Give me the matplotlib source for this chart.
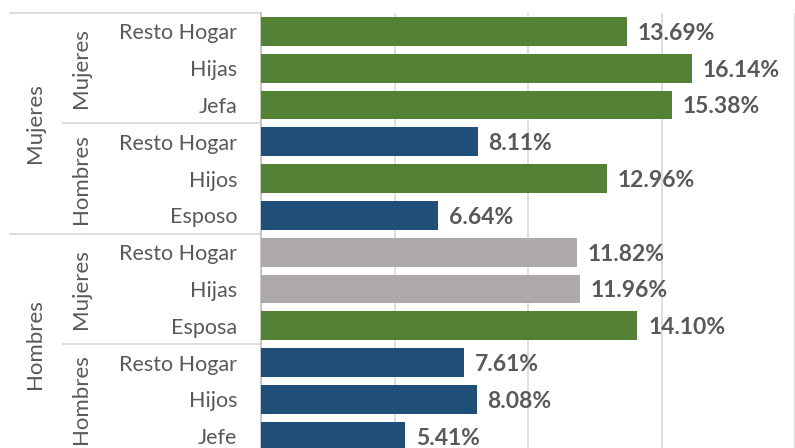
import matplotlib
matplotlib.use("Agg")
import matplotlib.pyplot as plt
import matplotlib.transforms as mtransforms
from matplotlib.lines import Line2D

# data (top to bottom)
ROLES = ["Resto Hogar", "Hijas", "Jefa", "Resto Hogar", "Hijos", "Esposo",
         "Resto Hogar", "Hijas", "Esposa", "Resto Hogar", "Hijos", "Jefe"]
VALUES = [13.69, 16.14, 15.38, 8.11, 12.96, 6.64,
          11.82, 11.96, 14.10, 7.61, 8.08, 5.41]
BAR_KIND = ["v", "v", "v", "a", "v", "a",
            "g", "g", "v", "a", "a", "a"]
LEVEL2 = ["Mujeres", "Hombres", "Mujeres", "Hombres"]
LEVEL1 = ["Mujeres", "Hombres"]
XTICKS = [0, 5, 10, 15, 20]

COLORS = {"v": "#548235", "a": "#1F4E79", "g": "#AEAAAA"}
TXT = "#595959"
GRID = "#D9D9D9"
FONT = "Lato"
FS = 15.5

W, H = 795, 448
fig = plt.figure(figsize=(W / 100, H / 100), dpi=100)

# axes box in pixels
left_px, top_px = 261, 13
row_px = 36.8
n = len(VALUES)
ax = fig.add_axes([left_px / W, (H - top_px - n * row_px) / H,
                   (W - left_px) / W, n * row_px / H])

ypos = list(range(n))
ax.barh(ypos, VALUES, height=0.78, color=[COLORS[k] for k in BAR_KIND], zorder=3)
ax.set_ylim(n - 0.5, -0.5)
ax.set_xlim(0, (W - left_px) / 27.26)

for y, v in zip(ypos, VALUES):
    ax.text(v + 0.4, y + 0.05, "%.2f%%" % v, va="center", ha="left",
            fontsize=16.5, fontweight="bold", color=TXT, family=FONT)

ax.set_xticks(XTICKS)
ax.xaxis.grid(True, color=GRID, linewidth=1.2, zorder=0)
ax.tick_params(axis="x", length=0, labelbottom=False)
ax.set_yticks(ypos)
ax.set_yticklabels(ROLES, fontsize=FS, color=TXT, family=FONT)
ax.tick_params(axis="y", length=0, pad=17)
for s in ["top", "right", "bottom"]:
    ax.spines[s].set_visible(False)
ax.spines["left"].set_color("#BFBFBF")
ax.spines["left"].set_linewidth(1.2)

# hierarchical category labels
tr = mtransforms.blended_transform_factory(fig.transFigure, ax.transData)
for i, lab in enumerate(LEVEL2):
    ax.text(81 / W, i * 3 + 1, lab, rotation=90, ha="center", va="center",
            fontsize=16, color=TXT, family=FONT, transform=tr)
for i, lab in enumerate(LEVEL1):
    ax.text(35 / W, i * 6 + 2.5, lab, rotation=90, ha="center", va="center",
            fontsize=16, color=TXT, family=FONT, transform=tr)

for b in [0, 3, 6, 9]:
    x0 = 10 / W if b % 6 == 0 else 63 / W
    ax.add_line(Line2D([x0, left_px / W], [b - 0.5, b - 0.5], color=GRID,
                       linewidth=1.3, transform=tr, clip_on=False))

fig.savefig("out.png", dpi=100)
